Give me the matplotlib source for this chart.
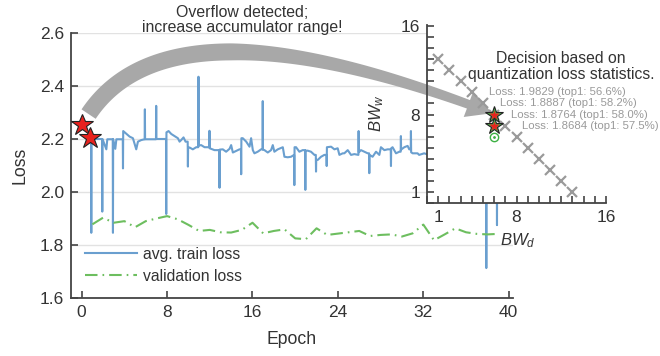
import numpy as np
import matplotlib.pyplot as plt
import matplotlib.patches as mpatches
from matplotlib.transforms import IdentityTransform
from matplotlib.ticker import MultipleLocator

plt.rcParams['font.family'] = 'Liberation Sans'
plt.rcParams['mathtext.fontset'] = 'custom'
plt.rcParams['mathtext.it'] = 'Liberation Sans:italic'
plt.rcParams['mathtext.rm'] = 'Liberation Sans'

#DATA

#avg. train loss, vertices of the noisy per-iteration curve
train_epoch = [0.88, 0.90, 0.92, 1.91, 1.93, 1.95, 2.31, 2.40, 2.91, 2.93, 2.95, 3.15, 3.25,
               3.85, 3.87, 3.89, 4.33, 4.49, 4.80, 5.11, 5.27, 5.58, 5.90, 5.92, 5.94, 6.36,
               6.96, 6.98, 7.00, 7.90, 7.92, 7.94, 8.14, 8.39, 8.70, 9.01, 9.17, 9.32, 9.54,
               9.73, 9.93, 9.95, 9.97, 10.10, 10.41, 10.73, 10.92, 10.94, 10.96, 11.19, 11.51,
               11.95, 11.97, 11.99, 12.44, 12.89, 12.91, 12.93, 13.22, 13.53, 13.85, 14.00, 14.16,
               14.78, 14.92, 14.94, 14.96, 15.09, 15.41, 15.72, 15.87, 16.03, 16.18, 16.49, 16.81,
               16.94, 16.96, 16.98, 17.12, 17.43, 17.74, 17.90, 18.05, 18.37, 18.84, 18.99, 19.30,
               19.61, 19.90, 19.92, 19.94, 20.08, 20.39, 20.70, 20.93, 20.95, 20.97, 21.17, 21.48,
               21.80, 21.93, 21.95, 21.97, 22.11, 22.42, 22.73, 22.93, 22.95, 22.97, 23.36, 23.67,
               23.98, 24.14, 24.45, 24.60, 24.92, 25.23, 25.54, 25.92, 25.94, 25.96, 26.16, 26.47,
               26.79, 26.92, 26.94, 26.96, 27.25, 27.57, 27.88, 28.03, 28.35, 28.66, 28.95, 28.97,
               28.99, 29.12, 29.44, 29.75, 29.88, 29.90, 29.92, 30.22, 30.53, 30.68, 30.82, 30.84,
               30.86, 31.00, 31.46, 31.61, 32.08, 32.30, 33.0, 34.0, 35.0, 36.0, 37.0, 37.88,
               37.90, 37.92, 38.88, 38.90, 38.92]
train_loss = [2.200, 1.846, 2.200, 2.200, 1.926, 2.200, 2.161, 2.199, 2.199, 1.846, 2.199, 2.163, 2.199,
              2.199, 2.089, 2.230, 2.215, 2.209, 2.203, 2.161, 2.190, 2.196, 2.199, 2.312, 2.199, 2.199,
              2.199, 2.325, 2.200, 2.200, 1.917, 2.225, 2.230, 2.219, 2.211, 2.203, 2.190, 2.196, 2.206,
              2.190, 2.190, 2.096, 2.168, 2.168, 2.161, 2.169, 2.169, 2.435, 2.175, 2.177, 2.169,
              2.169, 2.231, 2.165, 2.158, 2.158, 2.016, 2.160, 2.161, 2.152, 2.163, 2.177, 2.149,
              2.161, 2.161, 2.067, 2.203, 2.203, 2.190, 2.171, 2.203, 2.158, 2.146, 2.152, 2.161,
              2.161, 2.343, 2.160, 2.158, 2.149, 2.158, 2.177, 2.152, 2.161, 2.169, 2.133, 2.131,
              2.133, 2.140, 2.026, 2.169, 2.169, 2.152, 2.158, 2.158, 2.008, 2.156, 2.156, 2.152,
              2.140, 2.140, 2.077, 2.121, 2.121, 2.133, 2.140, 2.140, 2.098, 2.169, 2.171, 2.161,
              2.165, 2.140, 2.146, 2.146, 2.158, 2.140, 2.143, 2.140, 2.230, 2.150, 2.158, 2.152,
              2.146, 2.146, 2.071, 2.140, 2.133, 2.152, 2.140, 2.169, 2.158, 2.161, 2.161, 2.098,
              2.165, 2.169, 2.146, 2.152, 2.152, 2.211, 2.160, 2.169, 2.174, 2.161, 2.161, 2.230,
              2.150, 2.146, 2.146, 2.140, 2.146, 2.143, 2.148, 2.140, 2.150, 2.145, 2.142, 2.142,
              1.713, 2.140, 2.140, 1.875, 2.140]

#validation loss, one value per epoch
val_epoch = list(range(1, 40))
val_loss = [1.878, 1.903, 1.884, 1.890, 1.867, 1.890, 1.900, 1.909, 1.897, 1.876,
            1.853, 1.857, 1.848, 1.847, 1.857, 1.884, 1.844, 1.853, 1.859, 1.825,
            1.822, 1.863, 1.838, 1.843, 1.848, 1.853, 1.834, 1.838, 1.840, 1.832,
            1.844, 1.877, 1.818, 1.840, 1.863, 1.848, 1.842, 1.840, 1.842]

#overflow events (red stars)
overflow_epoch = [0.0, 0.75]
overflow_loss = [2.252, 2.203]

#bit width candidates (inset)
bw_d = [1, 2, 3, 4, 5, 6, 7, 8, 9, 10, 11, 12, 13]
bw_w = [13, 12, 11, 10, 9, 8, 7, 6, 5, 4, 3, 2, 1]
chosen_d = [6, 6]
chosen_w = [8, 7]
best_d = [6]
best_w = [6]
loss_labels = ["Loss: 1.9829 (top1: 56.6%)", "Loss: 1.8887 (top1: 58.2%)",
               "Loss: 1.8764 (top1: 58.0%)", "Loss: 1.8684 (top1: 57.5%)"]

blue = '#6a9fcf'
green = '#6dbe5f'
dark = '#333333'

fig = plt.figure(figsize=(6.6, 3.56), dpi=100)
W, H = 660, 356
ax = fig.add_axes([71 / W, 58 / H, 442 / W, 265 / H])

ax.plot(train_epoch, train_loss, color=blue, lw=1.5, label='avg. train loss', zorder=2)
ax.plot(val_epoch, val_loss, color=green, lw=1.5, dashes=(6, 2.4, 0.8, 2.4),
        label='validation loss', zorder=2)
ax.plot(overflow_epoch, overflow_loss, ls='none', marker='*', ms=16.5, mfc='#e8221e',
        mec='#222222', mew=0.8, zorder=4, clip_on=False)

ax.set_xlim(-1, 40.4)
ax.set_ylim(1.6, 2.6)
ax.set_xticks([0, 8, 16, 24, 32, 40])
ax.set_yticks([1.6, 1.8, 2.0, 2.2, 2.4, 2.6])
ax.yaxis.grid(True, color='#e2e2e2', lw=1.0)
ax.set_axisbelow(True)
for s in ['top', 'right']:
    ax.spines[s].set_visible(False)
for s in ['left', 'bottom']:
    ax.spines[s].set_color('#444444')
    ax.spines[s].set_linewidth(1.3)
ax.tick_params(direction='in', length=5, width=1.2, color='#444444', labelcolor=dark,
               labelsize=12.5, pad=5)
ax.set_xlabel('Epoch', fontsize=12.7, color=dark)
ax.set_ylabel('Loss', fontsize=12.7, color=dark)
ax.xaxis.set_label_coords(0.5, -0.125)
ax.yaxis.set_label_coords(-0.097, 0.5)
ax.legend(loc='lower left', frameon=False, fontsize=11.3, handlelength=3.3,
          handletextpad=0.4, labelspacing=0.45, labelcolor=dark)

#inset: bit width search
axin = fig.add_axes([427 / W, (H - 203) / H, 179 / W, 178 / H])
axin.plot(bw_d, bw_w, ls='none', marker='x', ms=6.5, mew=1.6, color='#9a9a9a', zorder=3)
axin.plot(chosen_d, chosen_w, ls='none', marker='*', ms=13, mfc='#4cb04a', mec='#222222',
          mew=0.8, zorder=4)
axin.plot(chosen_d, chosen_w, ls='none', marker='*', ms=7.5, mfc='#e8221e', mec='none', zorder=5)
axin.plot(best_d, best_w, ls='none', marker='o', ms=6, mfc='none', mec='#3cb043', mew=1.0, zorder=4)
axin.plot(best_d, best_w, ls='none', marker='.', ms=2, color='#3cb043', zorder=4)
for i, txt in enumerate(loss_labels):
    axin.text(5.5 + i, 10 - i, txt, fontsize=8.2, color='#9a9a9a', ha='left', va='center',
              zorder=6, clip_on=False)

axin.set_xlim(0, 16)
axin.set_ylim(0, 16.1)
axin.set_xticks([1, 8, 16])
axin.set_yticks([1, 8, 16])
axin.xaxis.set_minor_locator(MultipleLocator(1))
axin.yaxis.set_minor_locator(MultipleLocator(1))
for s in ['top', 'right']:
    axin.spines[s].set_visible(False)
for s in ['left', 'bottom']:
    axin.spines[s].set_color('#444444')
    axin.spines[s].set_linewidth(1.3)
axin.tick_params(which='both', direction='in', length=5, width=1.2, color='#444444',
                 labelcolor=dark, labelsize=12.5, pad=5)
axin.set_xlabel('$BW_d$', fontsize=12, color=dark)
axin.set_ylabel('$BW_w$', fontsize=12, color=dark)
axin.xaxis.set_label_coords(0.506, -0.16)
axin.yaxis.set_label_coords(-0.229, 0.506)

#big curved arrow from the overflow to the decision
p0 = ax.transData.transform((0.65, 2.294))
p2 = axin.transData.transform((5.83, 8.12))
p1 = p0 + np.array([83.0, 124.0])
t = np.linspace(0, 1, 400)[:, None]
curve = (1 - t) ** 2 * p0 + 2 * (1 - t) * t * p1 + t ** 2 * p2
deriv = 2 * (1 - t) * (p1 - p0) + 2 * t * (p2 - p1)
head_len, head_w = 25.0, 27.0
dist = np.hypot(*(curve - p2).T)
k = np.argmax(dist < head_len)
tt = t[:k, 0]
width = np.where(tt < 0.5, 17.0, 17.0 - 8.0 * (tt - 0.5) / (tt[-1] - 0.5))
tang = deriv[:k] / np.hypot(*deriv[:k].T)[:, None]
norm = np.column_stack([-tang[:, 1], tang[:, 0]])
left = curve[:k] + norm * width[:, None] / 2
right = curve[:k] - norm * width[:, None] / 2
base = curve[k - 1]
d = (p2 - base) / np.hypot(*(p2 - base))
n = np.array([-d[1], d[0]])
pts = np.vstack([left, base + n * head_w / 2, p2, base - n * head_w / 2, right[::-1]])
arrow = mpatches.Polygon(pts, closed=True, transform=IdentityTransform(), fc='#a8a8a8',
                         ec='none', clip_on=False, zorder=2)
axin.add_artist(arrow)

fig.text(242 / W, 1 - 20 / H, 'Overflow detected;\nincrease accumulator range!',
         ha='center', va='center', fontsize=11.4, color=dark, linespacing=1.05)
fig.text(561 / W, 1 - 66.5 / H, 'Decision based on\nquantization loss statistics.',
         ha='center', va='center', fontsize=11.3, color=dark, linespacing=1.1)

fig.savefig('out.png', dpi=100)
